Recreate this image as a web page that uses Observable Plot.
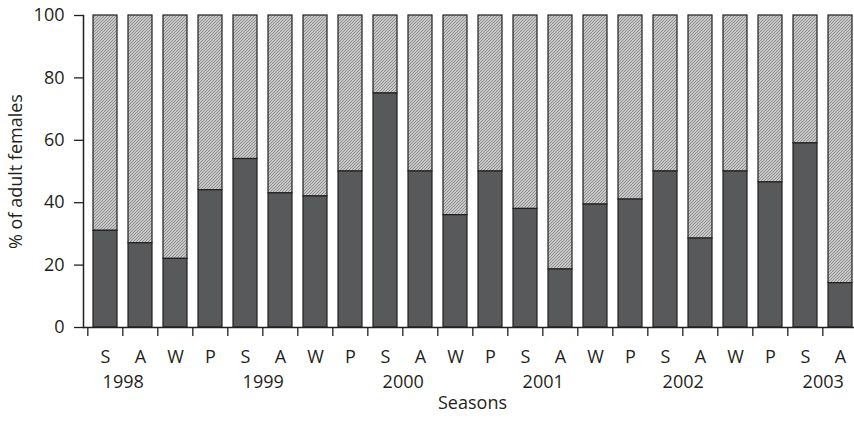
<!DOCTYPE html>
<html>
<head>
<meta charset="utf-8">
<script src="https://cdn.jsdelivr.net/npm/d3@7"></script>
<script src="https://cdn.jsdelivr.net/npm/@observablehq/plot@0.6"></script>
<style>
  html, body { margin: 0; padding: 0; background: #fff; overflow: hidden; }
  svg { display: block; }
</style>
</head>
<body>
<div id="chart"></div>
<script>
const seasons = ["S","A","W","P","S","A","W","P","S","A","W","P","S","A","W","P","S","A","W","P","S","A"];
const years   = [1998,1998,1998,1999,1999,1999,1999,2000,2000,2000,2000,2001,2001,2001,2001,2002,2002,2002,2002,2003,2003,2003];
const darkPct = [31,27,22,44,54,43,42,50,75,50,36,50,38,18.6,39.4,41,50,28.5,50,46.5,59,14.2];
const yearLabels = [1998,1999,2000,2001,2002,2003];
const yTicks = [0,20,40,60,80,100];

const ids = seasons.map((s, i) => `${i}-${s}`);
const rows = ids.map((id, i) => ({id, season: seasons[i], year: years[i], dark: darkPct[i]}));
const yearRows = yearLabels.map(y => {
  const i = rows.findIndex(r => r.year === y && r.season === "S");
  return {id: ids[i], year: y};
});

const W = 854, H = 427, ML = 83, MR = -7, MT = 15, MB = 100;
const step = (W - MR - ML) / ids.length;
const font = "Open Sans, sans-serif";
const FS = 18;
const ink = "#231f20";

const plot = Plot.plot({
  width: W, height: H,
  marginLeft: ML, marginRight: MR, marginTop: MT, marginBottom: MB,
  style: {fontFamily: font, fontSize: FS + "px", color: ink, background: "white", overflow: "visible"},
  x: {type: "band", domain: ids, paddingInner: 0.32, paddingOuter: 0.16, axis: null},
  y: {domain: [0, 100], axis: null},
  marks: [
    Plot.barY(rows, {x: "id", y1: "dark", y2: 100, fill: "url(#hatch)", stroke: ink, strokeWidth: 1.2}),
    Plot.barY(rows, {x: "id", y1: 0, y2: "dark", fill: "#58595b", stroke: ink, strokeWidth: 1.2}),
    Plot.axisY({ticks: yTicks, tickSize: 9, tickPadding: 10, label: null, stroke: ink, strokeWidth: 1.3, fontSize: FS, fill: ink}),
    Plot.frame({anchor: "left", stroke: ink, strokeWidth: 1.5}),
    Plot.ruleY([0], {stroke: ink, strokeWidth: 1.5}),
    // boundary ticks below the axis
    Plot.ruleX(rows, {x: "id", y1: 0, y2: 0, insetBottom: -9, dx: -step / 2, stroke: ink, strokeWidth: 1.3}),
    Plot.ruleX(rows.slice(-1), {x: "id", y1: 0, y2: 0, insetBottom: -9, dx: step / 2, stroke: ink, strokeWidth: 1.3}),
    // season labels
    Plot.text(rows, {x: "id", y: 0, text: "season", dy: 30, fill: ink, fontSize: FS}),
    // year labels centred between S and A
    Plot.text(yearRows, {x: "id", y: 0, text: d => String(d.year), dx: step / 2, dy: 55, fill: ink, fontSize: FS}),
    // axis titles
    Plot.text(["Seasons"], {frameAnchor: "bottom", dy: 81, fill: ink, fontSize: FS}),
    Plot.text(["% of adult females"], {frameAnchor: "left", textAnchor: "middle", dx: -67, rotate: -90, fill: ink, fontSize: FS})
  ]
});

// hatch pattern definition
const svgNS = "http://www.w3.org/2000/svg";
const defs = document.createElementNS(svgNS, "defs");
defs.innerHTML = `
  <pattern id="hatch" patternUnits="userSpaceOnUse" width="3" height="3">
    <rect width="3" height="3" fill="#c6c6c6"></rect>
    <path d="M-0.75,0.75 l1.5,-1.5 M0,3 l3,-3 M2.25,3.75 l1.5,-1.5" stroke="#8a8a8a" stroke-width="0.9"></path>
  </pattern>`;
plot.insertBefore(defs, plot.firstChild);
document.getElementById("chart").appendChild(plot);
</script>
</body>
</html>
